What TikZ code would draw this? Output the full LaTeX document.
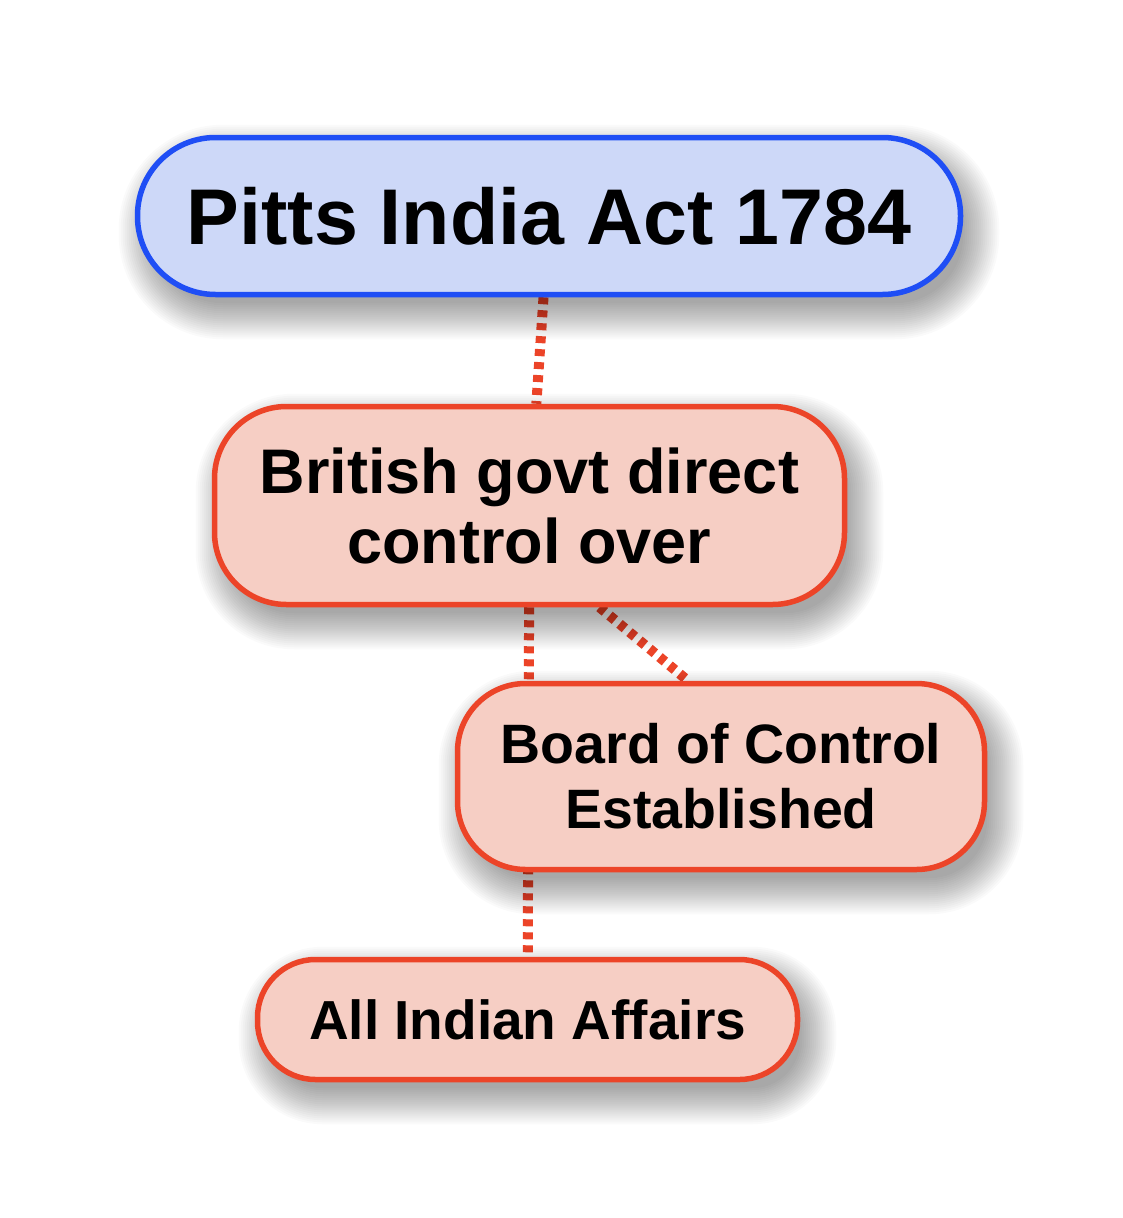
\documentclass[tikz,border=0pt]{standalone}
\usepackage{fontspec}
\setmainfont{Liberation Sans}
\usetikzlibrary{backgrounds,calc}
\definecolor{bluefill}{HTML}{CDD8F8}
\definecolor{blueline}{HTML}{1F4EF5}
\definecolor{redfill}{HTML}{F6CEC4}
\definecolor{redline}{HTML}{EC4428}
\pgfdeclarelayer{paper}
\pgfdeclarelayer{shade}
\pgfsetlayers{paper,background,shade,main}
\tikzset{
  box/.style={draw, line width=5.5pt, align=center, font=\bfseries, inner sep=0pt},
  topbox/.style={box, fill=bluefill, draw=blueline, rounded corners=78pt},
  subbox/.style={box, fill=redfill, draw=redline},
  link/.style={draw=redline, line width=10pt, dash pattern=on 7pt off 6pt},
  shadelayer/.style={fill=black, opacity=0.02}
}
\newcommand\mysoftshadow[2]{%
  \foreach \d in {-10,-8,...,26}{%
    \pgfmathsetmacro\rr{max(#2+\d,4)}%
    \fill[shadelayer, rounded corners=\rr pt]
      ($(#1.south west)+(10-\d,16+\d)$) rectangle ($(#1.north east)+(10+\d,16-\d)$);
  }%
}
\begin{document}
\begin{tikzpicture}[x=1pt,y=-1pt]
\begin{pgfonlayer}{paper}
\fill[white] (0,0) rectangle (1122,1218);
\end{pgfonlayer}
\useasboundingbox (0,0) rectangle (1122,1218);
\node[topbox, minimum width=823pt, minimum height=157pt, font=\bfseries\fontsize{79}{86}\selectfont] (pitts) at (549,216) {Pitts India Act 1784};
\node[subbox, rounded corners=72pt, minimum width=630pt, minimum height=198pt, font=\bfseries\fontsize{63}{70}\selectfont] (brit) at (529.5,505.5) {British govt direct\\control over};
\node[subbox, rounded corners=68pt, minimum width=527pt, minimum height=186pt, font=\bfseries\fontsize{55.5}{65}\selectfont] (board) at (721,776.5) {Board of Control\\Established};
\node[subbox, rounded corners=58pt, minimum width=540pt, minimum height=120pt, font=\bfseries\fontsize{55}{62}\selectfont] (all) at (527.5,1019.5) {All Indian Affairs};
\begin{pgfonlayer}{shade}
\mysoftshadow{pitts}{78}
\mysoftshadow{brit}{72}
\mysoftshadow{board}{68}
\mysoftshadow{all}{58}
\end{pgfonlayer}
\begin{scope}[on background layer]
\draw[link] (pitts) -- (brit);
\draw[link] ($(brit.south)+(70,0)$) -- ($(board.north)+(-33,0)$);
\draw[link] (brit) -- (all);
\end{scope}
\end{tikzpicture}
\end{document}
